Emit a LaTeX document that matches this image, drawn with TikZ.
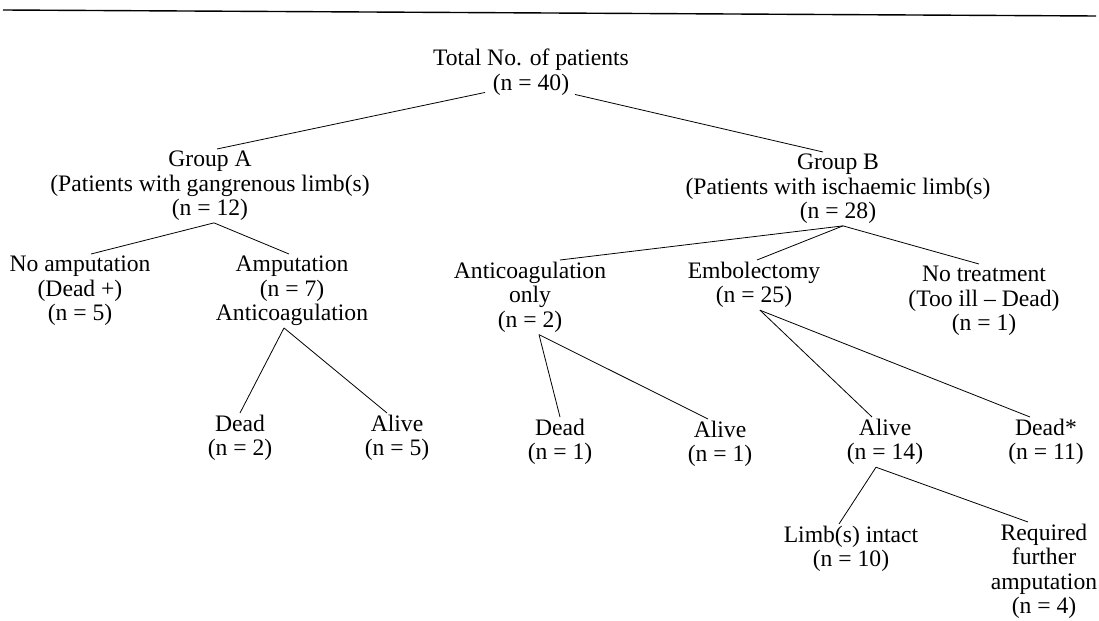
\documentclass[tikz,border=0pt]{standalone}
\usepackage{fontspec}
\setmainfont{Liberation Serif}
\begin{document}
\begin{tikzpicture}[x=1bp, y=-1bp, font=\fontsize{23.7}{24.5}\selectfont,
  lbl/.style={align=center, inner xsep=2bp, inner ysep=2bp, anchor=north},
  link/.style={line width=0.8bp}]
\useasboundingbox (0,0) rectangle (1099,621);

\draw[line width=1.4bp] (3,10) -- (1096,16);

\node[lbl] (total) at (531,47) {Total No. of patients\\(n = 40)};

\node[lbl] (grpA) at (210,149) {Group A\\(Patients with gangrenous limb(s)\\(n = 12)};
\node[lbl] (grpB) at (838,152) {Group B\\(Patients with ischaemic limb(s)\\(n = 28)};

\node[lbl] (noamp) at (80,254) {No amputation\\(Dead +)\\(n = 5)};
\node[lbl] (amp) at (292,254) {Amputation\\(n = 7)\\Anticoagulation};
\node[lbl] (deadA) at (240,413) {Dead\\(n = 2)};
\node[lbl] (aliveA) at (397,413) {Alive\\(n = 5)};

\node[lbl] (anticoag) at (530,260) {Anticoagulation\\only\\(n = 2)};
\node[lbl] (embol) at (754,260) {Embolectomy\\(n = 25)};
\node[lbl] (notreat) at (984,264) {No treatment\\(Too ill -- Dead)\\(n = 1)};
\node[lbl] (deadB) at (560,417) {Dead\\(n = 1)};
\node[lbl] (aliveB) at (720,419) {Alive\\(n = 1)};
\node[lbl] (alive14) at (885,417) {Alive\\(n = 14)};
\node[lbl] (dead11) at (1046,417) {Dead*\\(n = 11)};
\node[lbl] (intact) at (851,524) {Limb(s) intact\\(n = 10)};
\node[lbl] (further) at (1044,522) {Required\\further\\amputation\\(n = 4)};

% group level
\draw[link] ([xshift=-46bp,yshift=5bp]total.south) -- ([xshift=7bp]grpA.north);
\draw[link] ([xshift=44bp,yshift=3bp]total.south) -- ([xshift=-15bp]grpB.north);

% group A
\draw[link] ([xshift=4bp]grpA.south) -- ([xshift=11bp]noamp.north);
\draw[link] ([xshift=4bp]grpA.south) -- ([xshift=-3bp]amp.north);
\draw[link] ([xshift=-8bp]amp.south) -- (deadA.north);
\draw[link] ([xshift=-8bp]amp.south) -- ([xshift=-10bp]aliveA.north);

% group B
\draw[link] ([xshift=5bp]grpB.south) -- ([xshift=30bp]anticoag.north);
\draw[link] ([xshift=5bp]grpB.south) -- ([xshift=3bp]embol.north);
\draw[link] ([xshift=5bp]grpB.south) -- ([xshift=-5bp]notreat.north);
\draw[link] ([xshift=9bp]anticoag.south) -- (deadB.north);
\draw[link] ([xshift=9bp]anticoag.south) -- ([xshift=-12bp]aliveB.north);
\draw[link] ([xshift=6bp]embol.south) -- ([xshift=-13bp]alive14.north);
\draw[link] ([xshift=6bp]embol.south) -- ([xshift=-16bp]dead11.north);
\draw[link] ([xshift=-9bp]alive14.south) -- ([xshift=-12bp]intact.north);
\draw[link] ([xshift=-9bp]alive14.south) -- ([xshift=-16bp]further.north);
\end{tikzpicture}
\end{document}
